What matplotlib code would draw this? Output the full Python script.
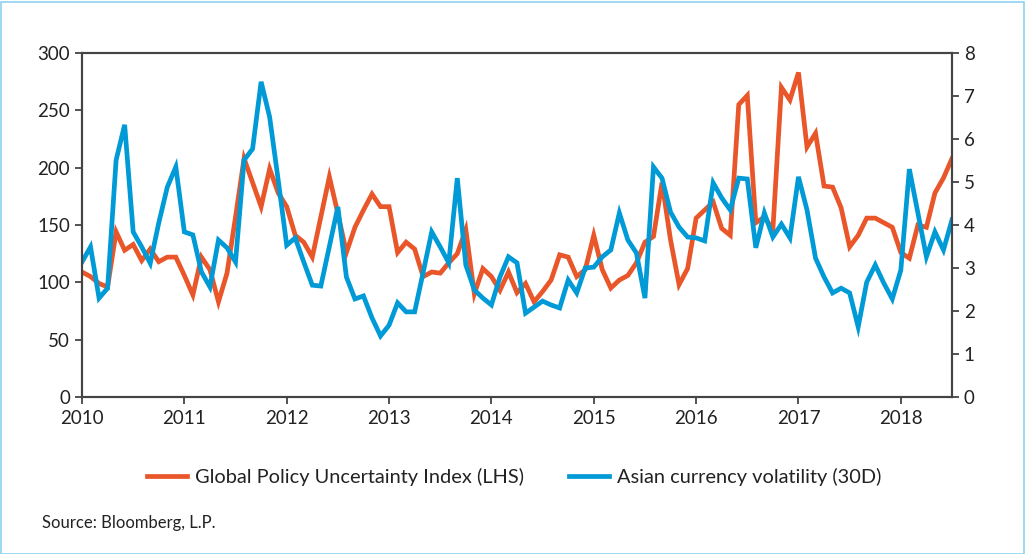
import numpy as np
import matplotlib.pyplot as plt
from matplotlib.patches import Rectangle

plt.rcParams['font.family'] = ['Lato', 'DejaVu Sans']

# monthly, Jan 2010 - Jul 2018
policy_uncertainty = [109, 105, 99, 96, 144, 128, 133, 119, 129, 118, 122, 122,
                      106, 89, 122, 111, 83, 108, 157, 208, 187, 166, 199, 178,
                      166, 141, 135, 122, 157, 192, 160, 126, 148, 163, 177, 166,
                      166, 126, 135, 129, 105, 109, 108, 117, 125, 146, 90, 112,
                      105, 93, 109, 91, 99, 83, 92, 102, 124, 122, 105, 111,
                      141, 111, 95, 102, 106, 117, 135, 140, 187, 137, 98, 112,
                      156, 163, 170, 147, 141, 255, 263, 152, 157, 146, 270, 259,
                      283, 218, 230, 184, 183, 165, 131, 141, 156, 156, 152, 148,
                      126, 121, 150, 148, 178, 191, 208]
asian_fx_vol = [3.14, 3.49, 2.30, 2.53, 5.51, 6.33, 3.84, 3.49, 3.11, 4.05, 4.88, 5.35,
                3.84, 3.77, 2.91, 2.56, 3.65, 3.47, 3.14, 5.51, 5.77, 7.33, 6.51, 5.05,
                3.53, 3.70, 3.14, 2.60, 2.58, 3.50, 4.42, 2.79, 2.28, 2.35, 1.84, 1.42,
                1.67, 2.19, 1.98, 1.98, 2.90, 3.84, 3.49, 3.12, 5.09, 3.07, 2.49, 2.30,
                2.14, 2.79, 3.26, 3.12, 1.95, 2.09, 2.23, 2.14, 2.07, 2.72, 2.42, 3.00,
                3.02, 3.26, 3.42, 4.28, 3.65, 3.35, 2.30, 5.35, 5.09, 4.30, 3.95, 3.72,
                3.70, 3.63, 4.98, 4.63, 4.35, 5.09, 5.07, 3.47, 4.28, 3.72, 4.02, 3.70,
                5.12, 4.35, 3.23, 2.79, 2.42, 2.53, 2.42, 1.63, 2.67, 3.07, 2.65, 2.28,
                2.95, 5.30, 4.28, 3.26, 3.84, 3.42, 4.12]
years = list(range(2010, 2019))

t = 2010 + np.arange(len(policy_uncertainty)) / 12.0

orange = '#E8562A'
blue = '#009AD7'
spine_col = '#444444'

fig = plt.figure(figsize=(10.29, 5.54), dpi=100)
ax = fig.add_axes([82/1029, 1 - 397/554, 870/1029, 344/554])
ax2 = ax.twinx()

l1, = ax.plot(t, policy_uncertainty, color=orange, lw=3.4, solid_joinstyle='miter',
              label='Global Policy Uncertainty Index (LHS)')
l2, = ax2.plot(t, asian_fx_vol, color=blue, lw=3.4, solid_joinstyle='miter',
               label='Asian currency volatility (30D)')

ax.set_xlim(2010, 2018.5)
ax.set_ylim(0, 300)
ax2.set_ylim(0, 8)
ax.set_xticks(years)
ax.set_xticklabels([str(y) for y in years])
ax.set_yticks(range(0, 301, 50))
ax2.set_yticks(range(0, 9))

for a in (ax, ax2):
    for s in a.spines.values():
        s.set_color(spine_col)
        s.set_linewidth(1.5)
    a.tick_params(colors=spine_col, labelcolor='#222222', labelsize=13.5,
                  width=1.3, length=5, direction='out')
ax.tick_params(axis='x', pad=4)

fig.legend(handles=[l1, l2], loc='center', bbox_to_anchor=(0.5, 1 - 477/554),
           ncol=2, frameon=False, fontsize=14.4, handlelength=2.0,
           columnspacing=2.25, handletextpad=0.4, labelcolor='#222222')

fig.text(42/1029, 1 - 523/554, 'Source: Bloomberg, L.P.', fontsize=12,
         color='#222222', va='center')

fig.patches.append(Rectangle((0.5/1029, 0.5/554), 1023/1029, 552/554,
                             transform=fig.transFigure, fill=False,
                             edgecolor='#8FD3EE', lw=1.2))

fig.savefig('out.png', dpi=100)
